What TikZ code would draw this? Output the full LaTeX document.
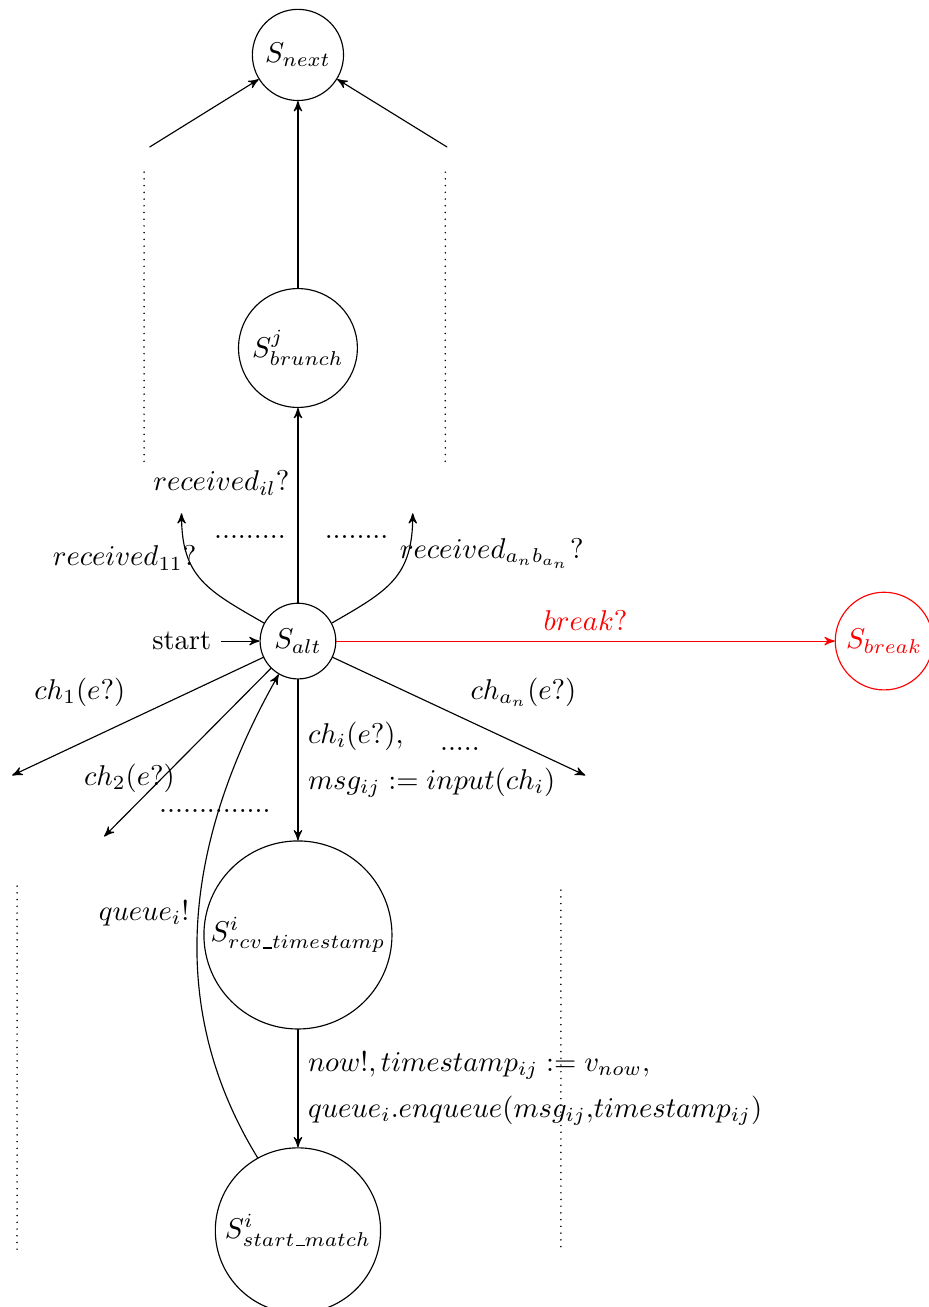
\documentclass[tikz,border=0pt]{standalone}
\usetikzlibrary{
    arrows, % Stealth arrow tips for the transitions.
}

% Short underscore inside the state names.
\newcommand{\uscore}{\kern.06em\vbox{\hrule width .3em}}

\begin{document}
\begin{tikzpicture}[%
        line cap = round,
        >= stealth',
        loc/.style = {circle, draw, inner sep = 0pt},
        gap/.style = {line width = 0.6pt, dash pattern = on 0pt off 2.35pt}
    ]

        \useasboundingbox (-3.66, -8.18) rectangle (7.74, 7.875);

        % Nodes for all of the states.
        \node[loc, minimum size = 0.93cm] (alt) at (0, 0) {$S_{alt}$};
        \node[loc, minimum size = 1.46cm] (brunch) at (0, 3.6) {$S^{j}_{brunch}$};
        \node[loc, minimum size = 1.12cm] (next) at (0, 7.2) {$S_{next}$};
        \node[loc, red, minimum size = 1.2cm] (brk) at (7.2, 0) {$S_{break}$};
        \node[loc, minimum size = 2.31cm] (rcv) at (0, -3.61)
            {$S^{i}_{rcv\uscore timestamp}$};
        \node[loc, minimum size = 2.03cm] (match) at (0, -7.24)
            {$S^{i}_{start\uscore match}$};
        \node (start) at (-0.94, 0) [anchor = east] {start};

        % Free ends of the transitions.
        \coordinate (NL) at (-1.82, 6.07);
        \coordinate (NR) at (1.83, 6.07);
        \coordinate (RL) at (-1.43, 1.57);
        \coordinate (RR) at (1.41, 1.57);
        \coordinate (C1) at (-3.51, -1.65);
        \coordinate (C2) at (-2.38, -2.40);
        \coordinate (CN) at (3.53, -1.65);

        % Draw in the transitions.
        \draw[->] (NL) to (next);
        \draw[->] (NR) to (next);
        \draw[->] (brunch) to (next);
        \draw[->] (alt) to (brunch);
        \draw[->] (alt.152) to[out = 150, in = -90, looseness = 1.2] (RL);
        \draw[->] (alt.28) to[out = 30, in = -90, looseness = 1.2] (RR);
        \draw[->] (start) to (alt);
        \draw[->, red] (alt) to node[above] {$break?$} (brk);
        \draw[->] (alt) to (C1);
        \draw[->] (alt) to (C2);
        \draw[->] (alt) to (CN);
        \draw[->] (alt) to node[right, align = left]
            {$ch_i(e?),$\\[4pt] $msg_{ij} := input(ch_i)$} (rcv);
        \draw[->] (rcv) to node[right, align = left]
            {$now!, timestamp_{ij} := v_{now},$\\[4pt]
             $queue_i.enqueue(msg_{ij}{,}timestamp_{ij})$} (match);
        \draw[->] (match.119) .. controls (-1.75, -4.3) and (-1.25, -2.2) .. (alt.240);

        % Labels that stand apart from the transitions.
        \node (lil) at (-0.94, 1.94) {$received_{il}?$};
        \node (l11) at (-2.13, 1.02) {$received_{11}?$};
        \node (lab) at (2.38, 1.08) {$received_{a_n b_{a_n}}?$};
        \node (lc1) at (-2.68, -0.63) {$ch_1(e?)$};
        \node (lc2) at (-2.07, -1.68) {$ch_2(e?)$};
        \node (lcn) at (2.77, -0.63) {$ch_{a_n}(e?)$};
        \node (lq) at (-1.89, -3.34) {$queue_i!$};

        % Dots for the transitions that are left out.
        \node (d1) at (-0.59, 1.28) {.........};
        \node (d2) at (0.72, 1.28) {........};
        \node (d3) at (1.99, -1.33) {.....};
        \node (d4) at (-1.02, -2.09) {..............};

        % Dotted lines for the branches that are left out.
        \draw[gap] (-1.89, 5.76) to (-1.89, 2.16);
        \draw[gap] (1.81, 5.76) to (1.81, 2.16);
        \draw[gap] (-3.45, -3.01) to (-3.45, -7.48);
        \draw[gap] (3.23, -3.06) to (3.23, -7.52);
    \end{tikzpicture}
\end{document}
